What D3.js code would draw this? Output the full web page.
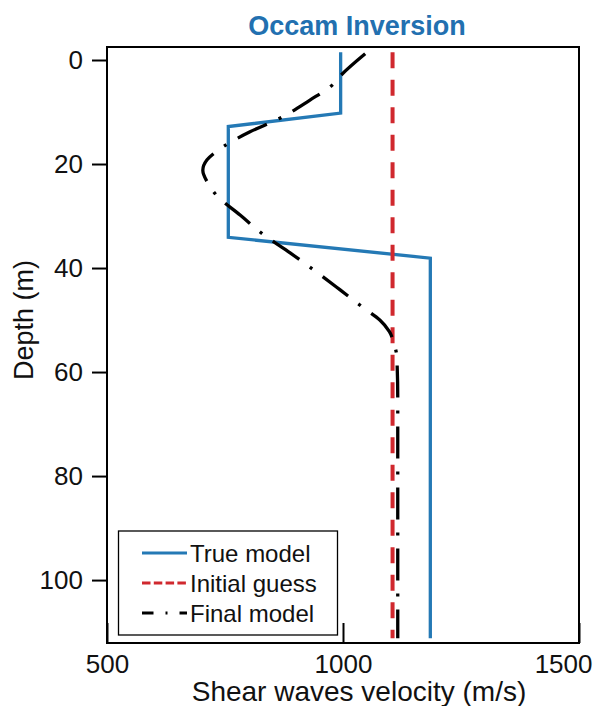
<!DOCTYPE html>
<html>
<head>
<meta charset="utf-8">
<script src="https://cdn.jsdelivr.net/npm/d3@7"></script>
<style>
  body { margin: 0; background: #fff; }
  svg { display: block; font-family: "Liberation Sans", Arial, sans-serif; }
</style>
</head>
<body>
<svg width="595" height="706"></svg>
<script>
// values
var yTicks = [0, 20, 40, 60, 80, 100];
var xTicks = [500, 1000, 1500];

var trueDepth = [-1.5, 10.2, 12.8, 34.1, 38.1, 111.2];
var trueVel = [995, 995, 757, 757, 1185, 1185];

var initDepth = [-1.5, 111.2];
var initVel = [1105, 1105];

var finalDepth = [-1.2, 2.9, 5.0, 7.7, 11.3, 13.8, 16.7, 19.2, 21.2, 23.7, 26.1, 29.8, 33.8, 37.1, 40.7, 44.2, 47.9, 50.0, 52.2, 54.5, 57.1, 65.0, 111.2];
var finalVel = [1047, 996, 975, 930, 864, 803, 746, 712, 703, 714, 733, 782, 835, 888, 943, 994, 1047, 1078, 1098, 1108, 1114, 1116, 1116];

var legendLabels = ["True model", "Initial guess", "Final model"];

var svg = d3.select("svg");
var blue = "#2479b5", red = "#d0282e";

// plot box (note: "top" is a reserved window property, so use box.*)
var box = { left: 107, right: 579, top: 47, bottom: 643 };

var x = d3.scaleLinear().domain([500, 1500]).range([box.left, box.right]);
var y = d3.scaleLinear().domain([-2.5, 112.1]).range([box.top, box.bottom]);

// title
svg.append("text")
    .attr("x", 357).attr("y", 35)
    .attr("text-anchor", "middle")
    .attr("font-size", 27).attr("font-weight", "bold")
    .attr("fill", "#2270b0")
    .text("Occam Inversion");

// axes
var yAxis = svg.append("g")
    .attr("transform", "translate(" + box.left + ",0)")
    .call(d3.axisLeft(y).tickValues(yTicks).tickSize(15).tickPadding(9));
var xAxis = svg.append("g")
    .attr("transform", "translate(0," + box.bottom + ")")
    .call(d3.axisBottom(x).tickValues(xTicks).tickSize(-20).tickPadding(12).tickFormat(d3.format("d")));

[yAxis, xAxis].forEach(function(g) {
  g.select(".domain").remove();
  g.selectAll("line").attr("stroke", "#000").attr("stroke-width", 2);
  g.selectAll("text").attr("font-size", 26).attr("fill", "#111")
      .attr("font-family", "Liberation Sans, Arial, sans-serif");
});

// last x label sits pulled in from the right edge, as in the original
xAxis.selectAll(".tick text")
    .filter(function(d) { return d === xTicks[xTicks.length - 1]; })
    .attr("text-anchor", "end")
    .attr("x", 13);

// axis labels
svg.append("text")
    .attr("x", 359).attr("y", 701)
    .attr("text-anchor", "middle")
    .attr("font-size", 28).attr("fill", "#111")
    .text("Shear waves velocity (m/s)");

svg.append("text")
    .attr("transform", "translate(33,320) rotate(-90)")
    .attr("text-anchor", "middle")
    .attr("font-size", 27).attr("fill", "#111")
    .text("Depth (m)");

// lines
var line = d3.line()
    .x(function(d) { return x(d[0]); })
    .y(function(d) { return y(d[1]); });

var smooth = d3.line()
    .x(function(d) { return x(d[0]); })
    .y(function(d) { return y(d[1]); })
    .curve(d3.curveMonotoneY);

svg.append("path")
    .attr("d", line(d3.zip(trueVel, trueDepth)))
    .attr("fill", "none").attr("stroke", blue).attr("stroke-width", 3.3);

svg.append("path")
    .attr("d", line(d3.zip(initVel, initDepth)))
    .attr("fill", "none").attr("stroke", red).attr("stroke-width", 4)
    .attr("stroke-dasharray", "16,11.5");

svg.append("path")
    .attr("d", smooth(d3.zip(finalVel, finalDepth)))
    .attr("fill", "none").attr("stroke", "#000").attr("stroke-width", 3.3)
    .attr("stroke-dasharray", "32,13,3,13");

// frame
svg.append("rect")
    .attr("x", box.left).attr("y", box.top)
    .attr("width", box.right - box.left).attr("height", box.bottom - box.top)
    .attr("fill", "none").attr("stroke", "#000").attr("stroke-width", 2);

// legend
var legend = svg.append("g");
legend.append("rect")
    .attr("x", 118.5).attr("y", 531)
    .attr("width", 219).attr("height", 104)
    .attr("fill", "#fff").attr("stroke", "#000").attr("stroke-width", 1.3);

var legendStyle = [
  { color: blue, dash: null, width: 3 },
  { color: red, dash: "8.5,3.3", width: 3 },
  { color: "#000", dash: "11.5,12,2,12,11.5", width: 3 }
];

legendLabels.forEach(function(label, i) {
  var ly = 553 + i * 30;
  legend.append("line")
      .attr("x1", 142).attr("x2", 187)
      .attr("y1", ly).attr("y2", ly)
      .attr("stroke", legendStyle[i].color)
      .attr("stroke-width", legendStyle[i].width)
      .attr("stroke-dasharray", legendStyle[i].dash);
  legend.append("text")
      .attr("x", 190).attr("y", ly + 8.5)
      .attr("font-size", 24).attr("fill", "#111")
      .text(label);
});
</script>
</body>
</html>
